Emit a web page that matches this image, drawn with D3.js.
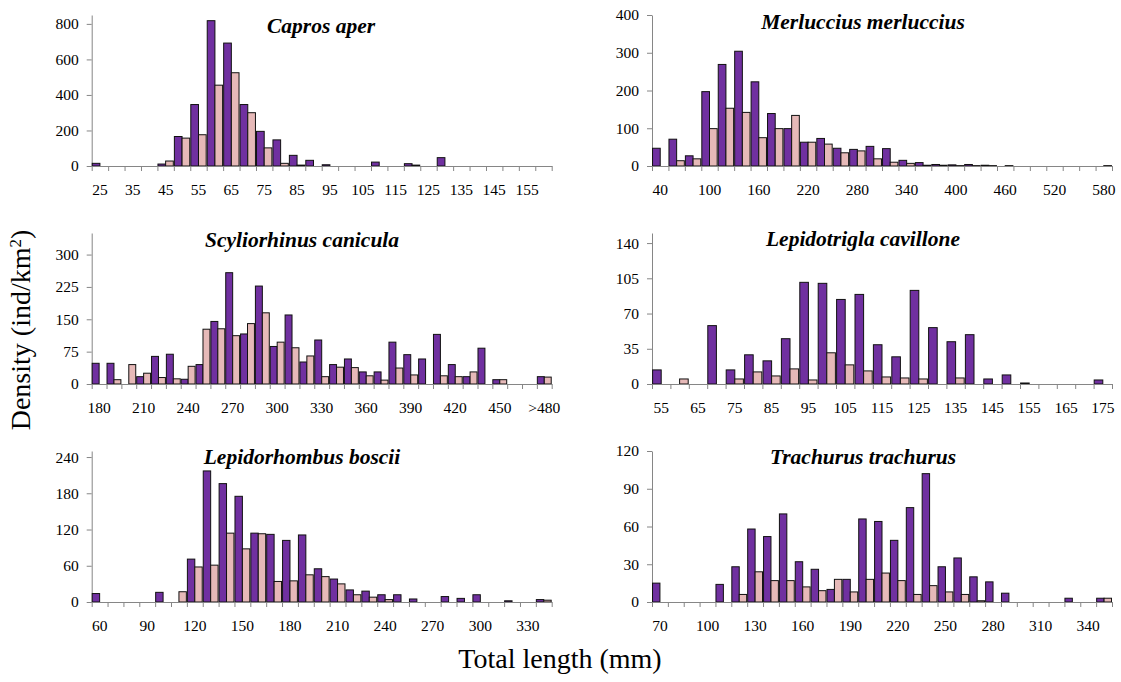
<!DOCTYPE html>
<html lang="en">
<head>
<meta charset="UTF-8">
<title>Length frequency distributions</title>
<script src="https://cdn.jsdelivr.net/npm/d3@7"></script>
<style>
  body { margin: 0; background: #fff; }
  svg { display: block; font-family: "Liberation Serif", "Times New Roman", serif; }
  .axis text { font-family: "Liberation Serif", "Times New Roman", serif; font-size: 15.5px; fill: #000; }
  .axis path, .axis line { stroke: #868686; }
  .title { font-size: 21.5px; font-weight: bold; font-style: italic; }
  .bigtitle { font-size: 28px; }
</style>
</head>
<body>
<svg id="chart" width="1121" height="682"></svg>
<script>
// Capros aper, 5 mm classes
let caprosLengths = ["25","30","35","40","45","50","55","60","65","70","75","80","85","90","95","100","105","110","115","120","125","130","135","140","145","150","155","160"];
let caprosDark  = [15,0,0,0,11,166,346,818,692,346,195,147,60,32,7,0,0,22,0,13,0,47,0,0,0,0,0,0];
let caprosLight = [0,0,0,0,28,157,176,455,525,300,102,15,5,0,0,0,0,0,0,5,0,0,0,0,0,0,0,0];
let caprosTicks = [0,200,400,600,800];

// Merluccius merluccius, 20 mm classes
let merluLengths = ["40","60","80","100","120","140","160","180","200","220","240","260","280","300","320","340","360","380","400","420","440","460","480","500","520","540","560","580"];
let merluDark  = [47,71,27,197,269,304,223,139,99,63,73,47,44,52,46,15,9,4,3,4,2,0,0,0,0,0,0,0];
let merluLight = [0,14,19,99,153,142,75,99,134,63,58,35,40,19,10,7,2,2,1,1,1,1,0,0,0,0,0,1];
let merluTicks = [0,100,200,300,400];

// Scyliorhinus canicula, 10 mm classes
let scylLengths = ["180","190","200","210","220","230","240","250","260","270","280","290","300","310","320","330","340","350","360","370","380","390","400","410","420","430","440","450","460","470",">480"];
let scylDark  = [48,48,0,17,64,69,11,45,145,258,116,227,87,160,51,102,45,58,28,28,97,68,58,115,45,17,83,10,0,0,17];
let scylLight = [0,10,45,25,15,12,41,127,128,112,140,165,97,84,65,17,39,38,19,9,37,21,0,19,17,28,0,10,0,0,16];
let scylTicks = [0,75,150,225,300];

// Lepidotrigla cavillone, 5 mm classes
let lepiLengths = ["55","60","65","70","75","80","85","90","95","100","105","110","115","120","125","130","135","140","145","150","155","160","165","170","175"];
let lepiDark  = [14,0,0,58,14,29,23,45,101,100,84,89,39,27,93,56,42,49,5,9,1,0,0,0,4];
let lepiLight = [0,5,0,0,5,12,8,15,4,31,19,13,7,6,5,0,6,0,0,0,0,0,0,0,0];
let lepiTicks = [0,35,70,105,140];

// Lepidorhombus boscii, 10 mm classes
let boscLengths = ["60","70","80","90","100","110","120","130","140","150","160","170","180","190","200","210","220","230","240","250","260","270","280","290","300","310","320","330","340"];
let boscDark  = [14,0,0,0,16,0,71,217,196,175,114,112,102,111,55,38,20,18,12,12,5,0,9,6,12,0,2,0,4];
let boscLight = [0,0,0,0,0,17,58,61,114,88,113,34,35,45,42,30,12,8,4,0,0,0,0,0,0,0,0,0,3];
let boscTicks = [0,60,120,180,240];

// Trachurus trachurus, 10 mm classes
let trachLengths = ["70","80","90","100","110","120","130","140","150","160","170","180","190","200","210","220","230","240","250","260","270","280","290","300","310","320","330","340","350"];
let trachDark  = [15,0,0,0,14,28,58,52,70,32,26,10,18,66,64,49,75,102,28,35,20,16,7,0,0,0,3,0,3];
let trachLight = [0,0,0,0,0,6,24,17,17,12,9,18,8,18,23,17,6,13,8,6,1,0,0,0,0,0,0,0,3];
let trachTicks = [0,30,60,90,120];

let panels = [
    {name: "Capros aper", lengths: caprosLengths, dark: caprosDark, light: caprosLight, ticks: caprosTicks, max: 850, every: 2},
    {name: "Merluccius merluccius", lengths: merluLengths, dark: merluDark, light: merluLight, ticks: merluTicks, max: 400, every: 3},
    {name: "Scyliorhinus canicula", lengths: scylLengths, dark: scylDark, light: scylLight, ticks: scylTicks, max: 350, every: 3},
    {name: "Lepidotrigla cavillone", lengths: lepiLengths, dark: lepiDark, light: lepiLight, ticks: lepiTicks, max: 150, every: 2},
    {name: "Lepidorhombus boscii", lengths: boscLengths, dark: boscDark, light: boscLight, ticks: boscTicks, max: 250, every: 3},
    {name: "Trachurus trachurus", lengths: trachLengths, dark: trachDark, light: trachLight, ticks: trachTicks, max: 120, every: 3}
];

// layout
let svg = d3.select("#chart");
let colLeft = [91.7, 652];
let plotWidth = 460;
let rowTop = [15, 233, 451];
let plotHeight = 151;
let titlePos = [[321, 32.5], [863, 28.5], [302, 246.5], [863, 245.5], [302, 464], [863, 464]];
let colors = {dark: "#7030a0", light: "#e6b9b8"};

// d3 axes put a sans-serif font on their group, drop it so the css serif applies
let plainFont = (a) => a.attr("font-family", null).attr("font-size", null);

let drawPanel = (p, k) => {
    let col = k % 2, row = Math.floor(k / 2);
    let x0 = colLeft[col];
    let top = rowTop[row];
    let bottom = top + plotHeight;
    let n = p.lengths.length;

    let x = d3.scaleBand()
        .domain(p.lengths)
        .range([x0, x0 + plotWidth])
        .paddingInner(0.065)
        .paddingOuter(0.0325);
    let sub = d3.scaleBand()
        .domain(["dark", "light"])
        .range([0, x.bandwidth()]);
    let y = d3.scaleLinear().domain([0, p.max]).range([bottom, top]);

    let rows = p.lengths.map((len, i) => ({len: len, dark: p.dark[i], light: p.light[i]}));
    let g = svg.append("g");

    // y axis
    g.append("g")
        .attr("class", "axis")
        .attr("transform", `translate(${x0},0)`)
        .call(d3.axisLeft(y).tickValues(p.ticks).tickSizeInner(5).tickSizeOuter(0).tickPadding(8))
        .call(plainFont);

    // bars
    ["dark", "light"].forEach(s => {
        g.selectAll(null)
            .data(rows.filter(d => d[s] > 0))
            .enter()
            .append("rect")
            .attr("x", d => x(d.len) + sub(s))
            .attr("width", sub.bandwidth())
            .attr("y", d => y(d[s]))
            .attr("height", d => bottom - y(d[s]))
            .attr("fill", colors[s])
            .attr("stroke", "#111")
            .attr("stroke-width", 1);
    });

    // x axis: tick marks at class boundaries
    let edge = d3.scaleLinear().domain([0, n]).range([x0, x0 + plotWidth]);
    g.append("g")
        .attr("class", "axis")
        .attr("transform", `translate(0,${bottom})`)
        .call(d3.axisBottom(edge).tickValues(d3.range(n + 1)).tickFormat("").tickSizeInner(5).tickSizeOuter(0));

    // x labels at every p.every class
    g.append("g")
        .attr("class", "axis")
        .attr("transform", `translate(0,${bottom})`)
        .call(d3.axisBottom(x)
            .tickValues(p.lengths.filter((d, i) => i % p.every === 0))
            .tickSize(0)
            .tickPadding(18))
        .call(plainFont)
        .call(a => a.select(".domain").remove());

    g.append("text")
        .attr("class", "title")
        .attr("x", titlePos[k][0])
        .attr("y", titlePos[k][1])
        .attr("text-anchor", "middle")
        .text(p.name);
};

panels.forEach(drawPanel);

// shared axis titles
let yTitle = svg.append("text")
    .attr("class", "bigtitle")
    .attr("transform", "translate(30,330) rotate(-90)")
    .attr("text-anchor", "middle");
yTitle.append("tspan").text("Density (ind/km");
yTitle.append("tspan").attr("baseline-shift", "super").attr("font-size", "17px").text("2");
yTitle.append("tspan").text(")");

svg.append("text")
    .attr("class", "bigtitle")
    .attr("x", 560)
    .attr("y", 668)
    .attr("text-anchor", "middle")
    .text("Total length (mm)");
</script>
</body>
</html>
